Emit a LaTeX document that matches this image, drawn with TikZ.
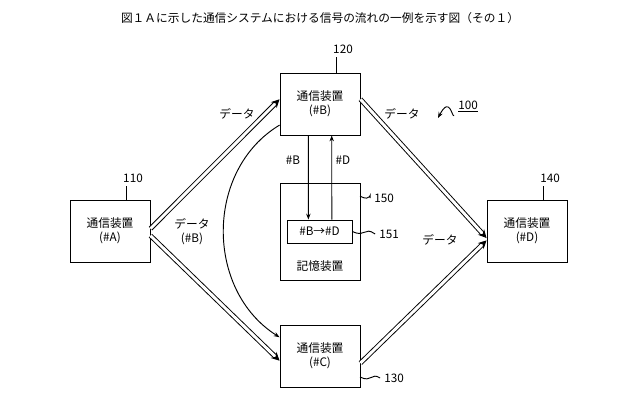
\documentclass[tikz,border=0pt]{standalone}
\usepackage{fontspec}
\setmainfont{Noto Sans CJK JP}
\usetikzlibrary{arrows.meta,positioning}
\tikzset{
  devbox/.style={draw,thick,minimum width=80*0.03cm,minimum height=62*0.03cm,align=center,font=\normalsize,inner sep=0pt},
  fat/.style={double,thick,double distance=2.5pt,-{Stealth[length=7pt,width=7pt]}},
  thin/.style={thick,-{Stealth[length=5pt]}},
  lbl/.style={font=\normalsize},
  tag/.style={thick}
}
\begin{document}
\begin{tikzpicture}[x=0.03cm,y=-0.03cm]
\useasboundingbox (0,0) rectangle (640,414);
\node[font=\normalsize] (title) at (320,18) {図１Ａに示した通信システムにおける信号の流れの一例を示す図（その１）};

\node[devbox] (A) at (110,231) {通信装置\\(\#A)};
\node[devbox] (B) at (320,104) {通信装置\\(\#B)};
\node[devbox] (C) at (320,356) {通信装置\\(\#C)};
\node[devbox] (D) at (527,231) {通信装置\\(\#D)};
\node[draw,thick,minimum width=80*0.03cm,minimum height=97*0.03cm] (S) at (320,231.5) {};
\node[draw,thick,minimum width=65*0.03cm,minimum height=23*0.03cm,font=\normalsize,inner sep=0pt] (M) at (319.5,231.5) {\#B→\#D};
\node[lbl] (st) at (320,266) {記憶装置};

% connectors
\draw[fat] ([yshift=2]A.east) -- ([yshift=4]B.west);
\draw[fat] ([yshift=-4]A.east) -- ([yshift=-4]C.west);
\draw[fat] ([yshift=4]B.east) -- ([yshift=-6]D.west);
\draw[fat] ([yshift=-6]C.east) -- ([yshift=-8]D.west);
\draw[thin] ([yshift=-18]B.west) .. controls (205,170) and (205,290) .. ([yshift=16]C.west);
\draw[thin] ([xshift=-10]B.south) -- ([xshift=-9.5]M.north);
\draw[thin] ([xshift=10.5]M.north) -- ([xshift=10]B.south);

\node[lbl] (d1) at (237,114) {データ};
\node[lbl,align=center] (d2) at (192,232) {データ\\(\#B)};
\node[lbl] (d3) at (402,114) {データ};
\node[lbl] (d4) at (440,240) {データ};
\node[lbl] (kb) at (293,160) {\#B};
\node[lbl] (kd) at (343,160) {\#D};

% reference labels
\node[lbl] (n110) at (133,178) {110};
\draw[tag] ([xshift=-6]n110.south) -- ([xshift=-6]n110.south |- A.north);
\node[lbl] (n120) at (343,49) {120};
\draw[tag] ([xshift=-6]n120.south) -- ([xshift=-6]n120.south |- B.north);
\node[lbl] (n140) at (550,178) {140};
\draw[tag] ([xshift=-6]n140.south) -- ([xshift=-6]n140.south |- D.north);
\node[lbl] (n150) at (384,198) {150};
\draw[tag] (n150.west) .. controls (370,190) and (372,203) .. (360,196);
\node[lbl] (n151) at (389,234) {151};
\draw[tag] (n151.west) .. controls (364,226) and (366,238) .. (M.east);
\node[lbl] (n130) at (394,378) {130};
\draw[tag] (n130.west) .. controls (371,372) and (372,383) .. (360,377);
\node[lbl] (n100) at (468,106) {\underline{100}};
\draw[thin,-{Stealth[length=5pt]}] (n100.south west) .. controls (452,118) and (450,95) .. (438,118);
\end{tikzpicture}
\end{document}
